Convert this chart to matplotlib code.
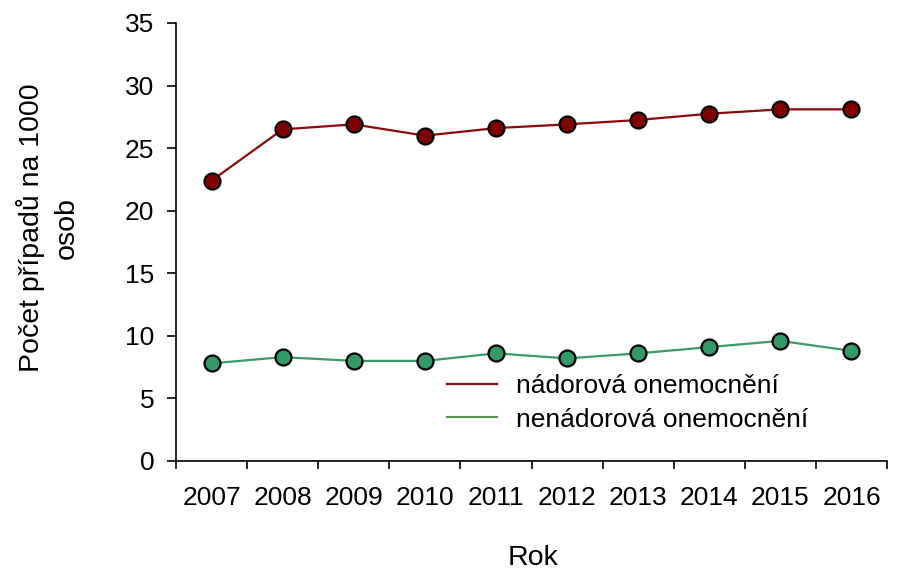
import matplotlib
matplotlib.use('Agg')
import matplotlib.pyplot as plt
import numpy as np

plt.rcParams['font.family'] = ['Liberation Sans', 'DejaVu Sans']

years = ['2007', '2008', '2009', '2010', '2011', '2012', '2013', '2014', '2015', '2016']
nadorova = [22.4, 26.5, 26.9, 26.0, 26.6, 26.9, 27.25, 27.75, 28.1, 28.1]
nenadorova = [7.8, 8.3, 8.0, 8.0, 8.6, 8.2, 8.6, 9.1, 9.6, 8.8]

red_line = '#8b0a0a'
red_fill = '#800000'
green_line = '#3a9a68'
green_fill = '#339966'
green_legend = '#55994a'
fs = 19

fig = plt.figure(figsize=(9.01, 5.76), dpi=100)
ax = fig.add_axes([176 / 901, 1 - 461 / 576, 711 / 901, 438 / 576])

x = np.arange(len(years)) + 0.5
ax.plot(x, nadorova, color=red_line, lw=1.6, marker='o', markersize=11.5,
        markerfacecolor=red_fill, markeredgecolor='black', markeredgewidth=1.6)
ax.plot(x, nenadorova, color=green_line, lw=1.6, marker='o', markersize=11.5,
        markerfacecolor=green_fill, markeredgecolor='black', markeredgewidth=1.6)

ax.set_xlim(0, len(years))
ax.set_ylim(0, 35)
ax.set_yticks(np.arange(0, 36, 5))
ax.set_xticks(np.arange(0, len(years) + 1))
ax.set_xticklabels([])
ax.set_xticks(x, minor=True)
ax.set_xticklabels(years, minor=True)
ax.tick_params(axis='x', which='minor', length=0, pad=18, labelsize=fs)
ax.tick_params(axis='x', which='major', length=6, width=1.2, direction='out')
ax.tick_params(axis='y', length=6.5, width=1.2, direction='out', labelsize=fs, pad=9)

for s in ['top', 'right']:
    ax.spines[s].set_visible(False)
for s in ['left', 'bottom']:
    ax.spines[s].set_linewidth(1.2)

# legend with plain lines only
h1, = ax.plot([], [], color=red_line, lw=1.6)
h2, = ax.plot([], [], color=green_legend, lw=1.6)
ax.legend([h1, h2], ['nádorová onemocnění', 'nenádorová onemocnění'],
          loc='upper left', bbox_to_anchor=(0.381, 0.198), frameon=False,
          fontsize=fs, handlelength=1.9, handletextpad=0.72, labelspacing=0.35,
          borderpad=0, borderaxespad=0)

fig.text(48 / 901, 1 - 228 / 576, 'Počet případů na 1000\nosob', rotation=90,
         ha='center', va='center', fontsize=20.5, linespacing=1.4)
fig.text(533 / 901, 1 - 558 / 576, 'Rok', ha='center', va='center', fontsize=20.5)

fig.savefig('out.png', dpi=100)
